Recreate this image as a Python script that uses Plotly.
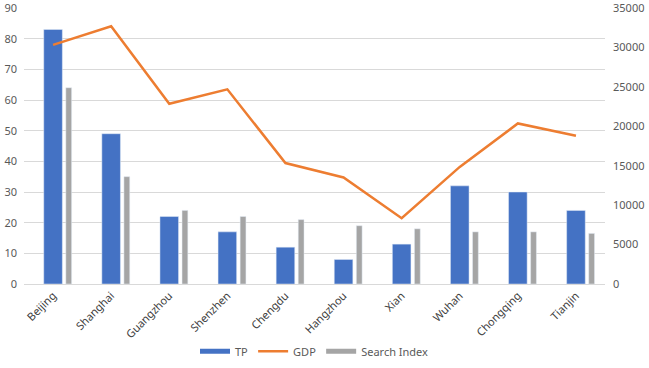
import plotly.graph_objects as go

cities = ["Beijing", "Shanghai", "Guangzhou", "Shenzhen", "Chengdu",
          "Hangzhou", "Xian", "Wuhan", "Chongqing", "Tianjin"]
tp = [83, 49, 22, 17, 12, 8, 13, 32, 30, 24]
gdp = [30320, 32680, 22860, 24690, 15340, 13510, 8350, 14850, 20360, 18810]
search_index = [64, 35, 24, 22, 21, 19, 18, 17, 17, 16.5]
left_ticks = [0, 10, 20, 30, 40, 50, 60, 70, 80, 90]
right_ticks = [0, 5000, 10000, 15000, 20000, 25000, 30000, 35000]

font = "Noto Sans, Open Sans, sans-serif"
tick_color = "#595959"
blue, orange, gray = "#4472C4", "#ED7D31", "#A5A5A5"

fig = go.Figure()
fig.add_trace(go.Bar(x=cities, y=tp, name="TP", marker_color=blue,
                     width=0.32, offset=-0.16, yaxis="y", showlegend=False))
fig.add_trace(go.Scatter(x=cities, y=gdp, name="GDP", mode="lines",
                         line=dict(color=orange, width=2.5), yaxis="y2",
                         showlegend=False))
fig.add_trace(go.Bar(x=cities, y=search_index, name="Search Index",
                     marker_color=gray, width=0.1, offset=0.22, yaxis="y",
                     showlegend=False))
# legend entries drawn as line keys, like the reference
for name, color, w in [("TP", blue, 5), ("GDP", orange, 2.5), ("Search Index", gray, 5)]:
    fig.add_trace(go.Scatter(x=[None], y=[None], name=name, mode="lines",
                             line=dict(color=color, width=w), yaxis="y"))

fig.update_layout(
    width=649, height=368,
    margin=dict(l=24, r=44, t=8, b=84, autoexpand=False),
    plot_bgcolor="white", paper_bgcolor="white",
    barmode="overlay",
    font=dict(family=font, size=11, color=tick_color),
    xaxis=dict(tickangle=-45, showgrid=False, showline=True, automargin=False,
               linecolor="#d9d9d9", ticks="", tickfont=dict(size=11, color="#404040")),
    yaxis=dict(range=[0, 90], tickmode="array", tickvals=left_ticks,
               ticktext=[str(v) for v in left_ticks], ticklabeloverflow="allow",
               showgrid=True, gridcolor="#d9d9d9", automargin=False,
               ticklabelstandoff=6,
               zeroline=False, ticks="", tickfont=dict(size=11, color=tick_color)),
    yaxis2=dict(range=[0, 35000], tickmode="array", tickvals=right_ticks,
                ticktext=[str(v) for v in right_ticks], ticklabeloverflow="allow",
                overlaying="y", side="right", automargin=False,
                showgrid=False, zeroline=False, ticks="", ticklabelstandoff=7,
                tickfont=dict(size=11, color=tick_color)),
    legend=dict(orientation="h", x=0.5, xanchor="center", y=-0.244,
                yanchor="middle", font=dict(size=11, color=tick_color),
                traceorder="normal", itemwidth=30, tracegroupgap=0),
    showlegend=True,
)

fig.write_html("out.html", config={"displayModeBar": False},
               post_script="document.body.style.margin='0';")
